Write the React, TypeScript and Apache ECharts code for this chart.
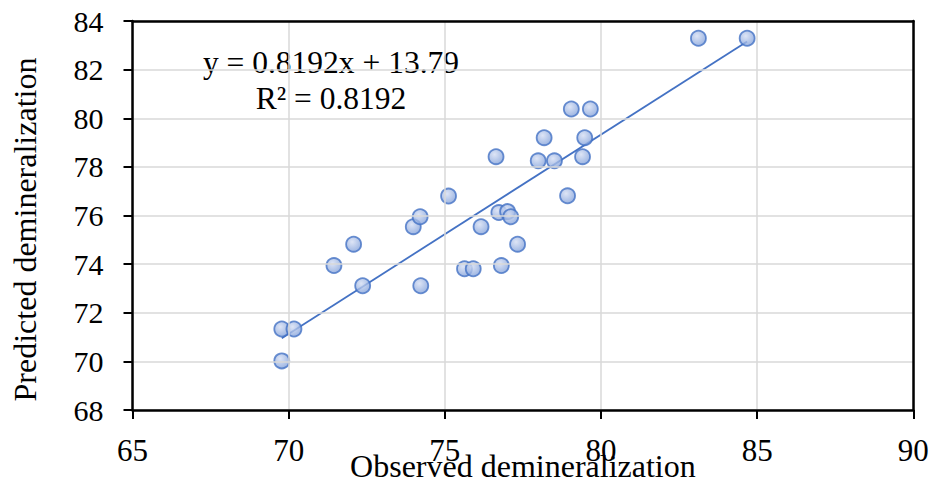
import React, { useEffect, useRef } from "react";
import * as echarts from "echarts";

const observed = [
  69.78, 70.17, 69.78, 71.45, 72.08, 72.37, 73.99, 74.21, 74.23, 75.12,
  75.63, 75.91, 76.16, 76.64, 76.73, 77.01, 77.11, 76.81, 77.33, 77.99,
  78.51, 78.18, 78.93, 79.05, 79.66, 79.48, 79.41, 83.12, 84.68,
];
const predicted = [
  71.33, 71.33, 70.02, 73.94, 74.82, 73.11, 75.54, 75.95, 73.11, 76.8,
  73.81, 73.81, 75.54, 78.42, 76.12, 76.16, 75.95, 73.94, 74.82, 78.25,
  78.25, 79.2, 76.81, 80.38, 80.38, 79.2, 78.42, 83.29, 83.29,
];
const trendSlope = 0.8192;
const trendIntercept = 13.79;
const equationLines = ["y = 0.8192x + 13.79", "R² = 0.8192"];
const xTitle = "Observed demineralization";
const yTitle = "Predicted demineralization";

const FONT = "Liberation Serif";

export default function App() {
  const ref = useRef<HTMLDivElement>(null);
  useEffect(() => {
    if (!ref.current) return;
    const chart = echarts.init(ref.current, null, { renderer: "svg" });
    const points = observed.map((x, i) => [x, predicted[i]]);
    const xMin = Math.min(...observed);
    const xMax = Math.max(...observed);
    const trend = [
      [xMin, trendSlope * xMin + trendIntercept],
      [xMax, trendSlope * xMax + trendIntercept],
    ];
    const frameAxis = {
      type: "value",
      axisLine: { show: true, onZero: false, lineStyle: { color: "#000", width: 2.5 } },
      axisTick: { show: false },
      axisLabel: { show: false },
      splitLine: { show: false },
      z: 5,
    };
    chart.setOption({
      animation: false,
      backgroundColor: "#ffffff",
      textStyle: { fontFamily: FONT, color: "#000" },
      grid: {
        left: 132.5,
        right: 20.7,
        top: 21,
        bottom: 74,
        outerBoundsMode: "none",
        containLabel: false,
      },
      xAxis: [
        {
          type: "value",
          min: 65,
          max: 90,
          interval: 5,
          name: xTitle,
          nameLocation: "middle",
          nameGap: 40,
          nameMoveOverlap: false,
          nameTextStyle: { fontFamily: FONT, fontSize: 32, color: "#000" },
          axisLine: { show: true, onZero: false, lineStyle: { color: "#000", width: 2.5 } },
          axisTick: { show: true, length: 9, lineStyle: { color: "#000", width: 2 } },
          axisLabel: { fontFamily: FONT, fontSize: 31, color: "#000", margin: 25 },
          splitLine: { show: true, lineStyle: { color: "#d9d9d9", width: 1.5 } },
          z: 5,
        },
        { ...frameAxis, position: "top", min: 65, max: 90 },
      ],
      yAxis: [
        {
          type: "value",
          min: 68,
          max: 84,
          interval: 2,
          axisLine: { show: true, onZero: false, lineStyle: { color: "#000", width: 2.5 } },
          axisTick: { show: true, length: 9, lineStyle: { color: "#000", width: 2 } },
          axisLabel: { fontFamily: FONT, fontSize: 30, color: "#000", margin: 29 },
          splitLine: { show: true, lineStyle: { color: "#d9d9d9", width: 1.5 } },
          z: 5,
        },
        { ...frameAxis, position: "right", min: 68, max: 84 },
      ],
      graphic: [
        {
          type: "text",
          x: 25,
          y: 229.5,
          rotation: Math.PI / 2,
          style: {
            text: yTitle,
            fontFamily: FONT,
            fontSize: 32,
            fill: "#000",
            align: "center",
            verticalAlign: "middle",
          },
        },
        {
          type: "text",
          x: 331,
          y: 62,
          style: {
            text: equationLines[0],
            fontFamily: FONT,
            fontSize: 31.5,
            fill: "#000",
            align: "center",
            verticalAlign: "middle",
          },
        },
        {
          type: "text",
          x: 331,
          y: 98,
          style: {
            text: equationLines[1],
            fontFamily: FONT,
            fontSize: 31.5,
            fill: "#000",
            align: "center",
            verticalAlign: "middle",
          },
        },
      ],
      series: [
        {
          type: "line",
          data: trend,
          showSymbol: false,
          symbol: "none",
          lineStyle: { color: "#4472c4", width: 1.8 },
          z: 3,
        },
        {
          type: "scatter",
          data: points,
          symbol: "circle",
          symbolSize: 15,
          itemStyle: {
            color: new echarts.graphic.RadialGradient(0.4, 0.35, 0.75, [
              { offset: 0, color: "#d5def3" },
              { offset: 1, color: "#7a9bd8" },
            ]),
            borderColor: "#4472c4",
            borderWidth: 1.8,
          },
          z: 4,
        },
      ],
    });
    return () => chart.dispose();
  }, []);
  return (
    <div
      ref={ref}
      style={{ position: "fixed", left: 0, top: 0, width: 934, height: 484, background: "#fff" }}
    />
  );
}
